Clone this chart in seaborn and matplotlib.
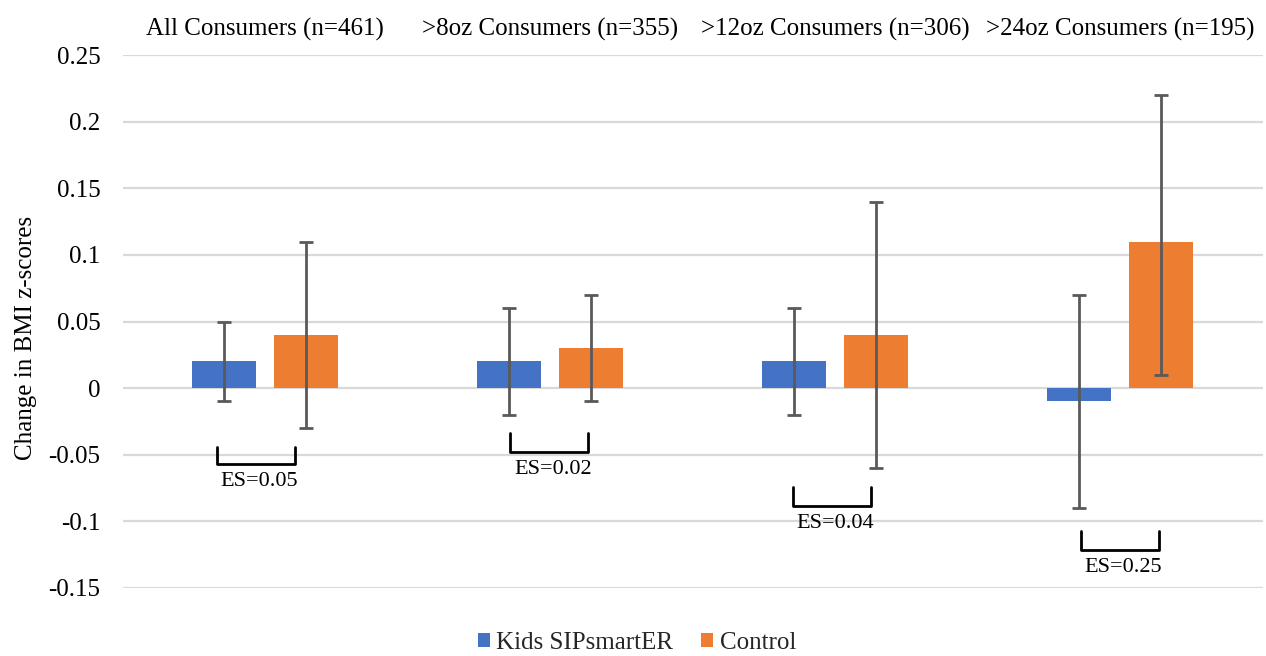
import matplotlib
matplotlib.use("Agg")
import matplotlib.pyplot as plt
from matplotlib.patches import Patch
import seaborn as sns
import pandas as pd

# Change in BMI z-scores by consumer group and study arm
groups = ["All Consumers (n=461)", ">8oz Consumers (n=355)",
          ">12oz Consumers (n=306)", ">24oz Consumers (n=195)"]
arms = ["Kids SIPsmartER", "Control"]

sipsmarter_change = [0.02, 0.02, 0.02, -0.01]
sipsmarter_low = [-0.01, -0.02, -0.02, -0.09]
sipsmarter_high = [0.05, 0.06, 0.06, 0.07]

control_change = [0.04, 0.03, 0.04, 0.11]
control_low = [-0.03, -0.01, -0.06, 0.01]
control_high = [0.11, 0.07, 0.14, 0.22]

effect_sizes = ["ES=0.05", "ES=0.02", "ES=0.04", "ES=0.25"]

y_ticks = [-0.15, -0.1, -0.05, 0, 0.05, 0.1, 0.15, 0.2, 0.25]
y_tick_labels = ["-0.15", "-0.1", "-0.05", "0", "0.05", "0.1", "0.15", "0.2", "0.25"]

# Bracket placement for the effect-size annotations (left, right, top, bottom, text y)
bracket_left = [-0.167, -0.139, -0.146, -0.137]
bracket_right = [0.107, 0.132, 0.126, 0.137]
bracket_top = [-0.044, -0.034, -0.074, -0.1075]
bracket_bottom = [-0.057, -0.0476, -0.0885, -0.1217]
label_y = [-0.070, -0.061, -0.1017, -0.1343]
label_dx = [-0.021, 0.01, 0.0, 0.011]

BLUE = "#4472C4"
ORANGE = "#ED7D31"
ERR = "#595959"
GRID = "#D9D9D9"

df = pd.DataFrame({
    "group": groups * 2,
    "arm": [arms[0]] * 4 + [arms[1]] * 4,
    "change": sipsmarter_change + control_change,
    "low": sipsmarter_low + control_low,
    "high": sipsmarter_high + control_high,
})

sns.set_theme(style="white")
plt.rcParams["font.family"] = ["Liberation Serif", "DejaVu Serif"]

fig = plt.figure(figsize=(12.66, 6.56), dpi=100)
ax = fig.add_axes([122.5 / 1266, 1 - 588 / 656, 1140 / 1266, 533 / 656])

sns.barplot(data=df, x="group", y="change", hue="arm", order=groups,
            hue_order=arms, palette=[BLUE, ORANGE], saturation=1,
            width=0.57, gap=0.21, errorbar=None, legend=False,
            linewidth=0, ax=ax)

# Error bars at each bar centre
for container, arm in zip(ax.containers, arms):
    sub = df[df["arm"] == arm].set_index("group").loc[groups]
    xs = [b.get_x() + b.get_width() / 2 for b in container]
    ys = sub["change"].values
    ax.errorbar(xs, ys, yerr=[ys - sub["low"].values, sub["high"].values - ys],
                fmt="none", ecolor=ERR, elinewidth=2, capsize=4.7,
                capthick=2, zorder=4)

# Effect-size brackets
for i, es in enumerate(effect_sizes):
    xl, xr = i + bracket_left[i], i + bracket_right[i]
    ax.plot([xl, xl, xr, xr],
            [bracket_top[i], bracket_bottom[i], bracket_bottom[i], bracket_top[i]],
            color="black", lw=2, solid_joinstyle="round", zorder=5)
    ax.text(i + label_dx[i], label_y[i], es, ha="center", va="center",
            fontsize=16, color="black")

ax.set_ylim(-0.15, 0.25)
ax.set_xlim(-0.5, 3.5)
ax.set_yticks(y_ticks)
ax.set_yticklabels(y_tick_labels)
ax.yaxis.grid(True, color=GRID, lw=1.6)
ax.set_axisbelow(True)
for s in ax.spines.values():
    s.set_visible(False)

ax.xaxis.tick_top()
ax.tick_params(axis="x", length=0, pad=10, labelsize=18, colors="black")
ax.tick_params(axis="y", length=0, pad=16, labelsize=18, colors="black")
ax.set_xlabel("")
ax.set_ylabel("Change in BMI z-scores", fontsize=18, color="black")
ax.yaxis.set_label_coords(-0.075, 0.47)

handles = [Patch(facecolor=BLUE, edgecolor="none"),
           Patch(facecolor=ORANGE, edgecolor="none")]
fig.legend(handles, arms, loc="center", bbox_to_anchor=(0.503, 1 - 643 / 656),
           ncol=2, frameon=False, fontsize=18, handlelength=0.5,
           handleheight=0.5, handletextpad=0.25, columnspacing=1.1,
           borderpad=0, borderaxespad=0)

fig.savefig("out.png", dpi=100)
